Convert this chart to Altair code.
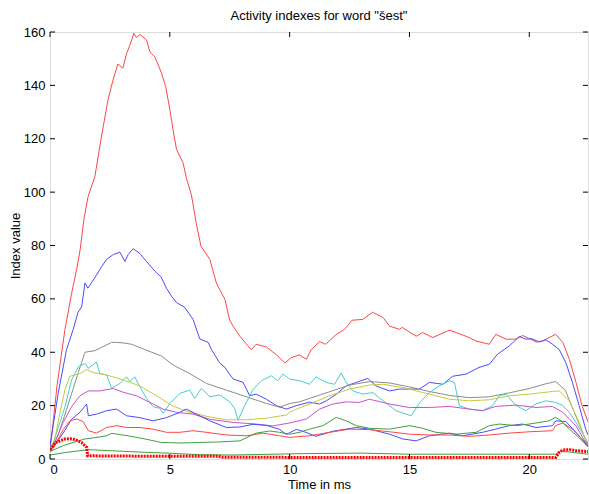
import altair as alt
import pandas as pd

# ---- data (x in ms, y index value) ----
red_x = [0, 0.07, 0.3, 0.625, 0.9, 1.11, 1.25, 1.42, 1.58, 1.875, 2.15, 2.42, 2.63, 2.83, 3.04, 3.2, 3.33, 3.5, 3.6, 3.75, 4.03, 4.17, 4.375, 4.65, 4.83, 5.0, 5.14, 5.28, 5.55, 5.7, 5.9, 6.1, 6.3, 6.67, 6.94, 7.08, 7.3, 7.5, 7.64, 7.92, 8.26, 8.4, 8.6, 9.03, 9.45, 9.8, 10.07, 10.4, 10.7, 10.9, 11.25, 11.5, 11.95, 12.3, 12.6, 13.05, 13.46, 13.9, 14.17, 14.58, 14.7, 15.28, 15.55, 15.97, 16.67, 17.36, 17.78, 18.33, 18.6, 19.03, 19.45, 19.72, 20.3, 20.55, 20.7, 21.1, 21.4, 21.67, 21.95, 22.2, 22.45]
red_y = [4, 8.7, 28, 48.6, 62, 71, 78, 90, 98, 106, 121, 134.6, 142, 148, 146.5, 152, 155, 159.5, 158, 159, 157, 152.5, 150.7, 144.7, 139.5, 131, 123, 116, 111, 105, 99, 88.5, 79.7, 74.8, 66, 63.5, 59.8, 52, 49.8, 46, 42.4, 41, 43, 42, 39, 36, 38, 39, 37.4, 41, 44, 43, 46.7, 48.6, 52, 52.3, 55, 53, 49.8, 48.6, 49.3, 46, 47.4, 45.5, 48.3, 46, 44.2, 43, 46.7, 44.9, 44.9, 46.3, 43.8, 44.2, 44.9, 46.7, 43.7, 37.4, 28.7, 20, 14]

blue_x = [0, 0.35, 0.69, 0.97, 1.17, 1.32, 1.46, 1.58, 1.875, 2.15, 2.36, 2.64, 2.92, 3.125, 3.26, 3.47, 3.75, 4.03, 4.375, 4.65, 4.86, 5.07, 5.28, 5.625, 5.97, 6.25, 6.6, 6.74, 7.08, 7.29, 7.64, 8.06, 8.33, 8.6, 9.03, 9.45, 9.86, 10.28, 10.83, 11.25, 11.53, 11.95, 12.36, 12.78, 13.26, 13.6, 14.17, 14.58, 15.42, 15.83, 16.4, 16.8, 17.36, 17.9, 18.33, 18.68, 19.17, 19.58, 19.86, 20.1, 20.4, 20.7, 20.97, 21.25, 21.53, 21.8, 22.08, 22.36, 22.45]
blue_y = [5, 25, 41, 48.6, 55, 57, 66, 64, 68, 72, 74.8, 76.6, 77.5, 74, 76.6, 78.8, 77, 74, 70.4, 68, 64, 61, 58.6, 56.8, 52.3, 45, 43.7, 41, 36, 34.4, 30, 28.7, 23.7, 24.3, 22.4, 20, 18.7, 20, 21.3, 20.6, 21.8, 24.3, 27.4, 28.7, 30.2, 27.4, 25.5, 26.2, 26.2, 28.7, 28, 31, 31.8, 34.3, 35.5, 39.3, 42.4, 45.9, 44.9, 45.1, 43.9, 44.6, 43, 41, 36, 28.7, 20, 11, 9]

gray_x = [0, 0.3, 0.6, 1.18, 1.46, 1.875, 2.08, 2.57, 2.78, 3.05, 3.4, 3.96, 4.65, 5.14, 5.83, 6.53, 7.36, 8.2, 9.03, 9.58, 10.0, 10.4, 10.83, 11.67, 12.5, 13.33, 14.17, 15.0, 15.83, 16.67, 17.5, 18.33, 19.17, 20.0, 20.7, 21.1, 21.5, 21.95, 22.45]
gray_y = [3, 8, 16, 32.4, 40, 40.6, 41.5, 43.7, 43.7, 43.5, 43, 41, 38.6, 35.2, 32, 28.3, 25.8, 23.3, 20.8, 19.4, 20.8, 21.4, 22.7, 25.2, 27.7, 29, 28.5, 27, 25.3, 23.8, 23, 23.3, 24.8, 26.4, 28.2, 29, 25.8, 16, 5]

cyan_x = [0, 0.14, 0.625, 0.9, 1.18, 1.46, 1.6, 1.94, 2.08, 2.36, 2.57, 2.92, 3.19, 3.33, 3.54, 3.75, 4.03, 4.3, 4.58, 4.72, 5.0, 5.42, 5.83, 6.04, 6.32, 6.67, 7.08, 7.5, 7.7, 7.85, 8.1, 8.47, 8.82, 9.24, 9.5, 9.72, 10.0, 10.42, 10.83, 11.1, 11.53, 11.875, 12.15, 12.36, 12.64, 13.05, 13.47, 13.9, 14.44, 15.07, 15.42, 15.83, 16.25, 16.67, 16.875, 17.08, 17.5, 18.05, 18.47, 18.75, 19.03, 19.45, 19.86, 20.28, 20.7, 21.1, 21.4, 21.67, 21.95, 22.36, 22.45]
cyan_y = [4, 6, 19.6, 29.6, 34.6, 35.8, 34, 36.4, 32, 31.5, 26.5, 28.3, 30.8, 29, 30.8, 27, 22.7, 19.6, 19, 17.1, 20.8, 24.6, 25.8, 22.7, 26.5, 23.3, 24, 21.4, 19, 14.6, 19.6, 26, 29.3, 31.2, 29.3, 31.8, 30, 29.3, 28, 30.8, 28.7, 28, 32.2, 28.7, 25.5, 24.3, 24.9, 21.8, 18.1, 16.2, 21, 24.9, 27.4, 29.3, 28.7, 20, 18.7, 18.1, 20, 23.7, 24.3, 20, 18.1, 20.6, 21.8, 21.2, 20, 17.5, 13.7, 7.5, 6]

yellow_x = [0, 0.2, 0.42, 0.625, 0.83, 1.25, 1.53, 1.8, 2.36, 3.06, 3.75, 4.44, 5.14, 5.83, 6.53, 7.36, 8.2, 9.03, 9.86, 10.0, 10.42, 10.83, 11.67, 12.5, 13.33, 13.9, 14.72, 15.83, 16.67, 17.5, 18.33, 19.17, 20.0, 20.97, 21.25, 21.67, 22.08, 22.45]
yellow_y = [3, 7.5, 17.5, 26, 31, 32, 33.6, 32.4, 31.5, 29.6, 27.4, 23.7, 19.8, 17.5, 16, 14.7, 14.7, 15.3, 16.5, 17.5, 19.2, 20.6, 23.7, 26.2, 27.7, 28, 26.8, 24.3, 22.4, 21.8, 22.2, 23.7, 24.3, 25.3, 25.5, 21.8, 13.7, 4.6]

magenta_x = [0, 0.14, 0.55, 0.9, 1.25, 1.6, 2.08, 2.64, 3.06, 3.61, 4.17, 4.72, 5.28, 5.97, 6.67, 7.64, 8.47, 9.3, 10.0, 10.7, 11.25, 11.8, 12.36, 12.9, 13.33, 14.17, 15.0, 15.83, 16.67, 17.5, 18.05, 18.6, 19.45, 20.28, 20.97, 21.4, 21.95, 22.45]
magenta_y = [3, 5, 13.7, 19.6, 23.7, 25.5, 25.5, 26.4, 25, 23.7, 21.2, 18.7, 17.5, 16.8, 14.9, 13.7, 13.2, 12.4, 13.5, 15, 18.7, 20.6, 21.4, 21.2, 22.4, 20.6, 19.3, 19.3, 19.7, 18.7, 18.1, 19.7, 20.2, 19.3, 19.7, 17.5, 12.4, 4.6]

blue2_x = [0, 0.14, 0.55, 0.9, 1.25, 1.53, 1.6, 1.94, 2.36, 2.78, 3.19, 3.75, 4.3, 4.86, 5.42, 5.69, 6.11, 6.67, 7.36, 7.92, 8.47, 9.03, 9.58, 9.86, 10.28, 10.55, 11.1, 11.8, 12.78, 13.33, 14.17, 14.72, 15.28, 15.83, 16.67, 17.22, 18.05, 18.6, 19.17, 19.72, 20.28, 20.97, 21.1, 21.53, 21.95, 22.45]
blue2_y = [3, 4.6, 9.7, 14.9, 17.5, 20.6, 16.2, 16.8, 18.1, 18.7, 16.2, 15.5, 14.3, 15.5, 17.5, 18.7, 16.8, 14.3, 11.8, 12, 13, 12.6, 11.1, 9.2, 11.1, 10.4, 8.5, 10.4, 11.8, 11.2, 9.3, 7.5, 6.8, 8.7, 9.7, 8.7, 10, 11.2, 12.5, 13.1, 11.8, 12.5, 14.3, 14, 10, 4.6]

red2_x = [0, 0.14, 0.55, 0.83, 1.11, 1.39, 1.6, 1.94, 2.36, 2.78, 3.19, 3.75, 4.3, 4.86, 5.42, 5.97, 6.53, 7.36, 8.2, 8.9, 9.58, 10.0, 10.83, 11.67, 12.5, 13.33, 14.17, 15.0, 15.83, 16.67, 17.5, 18.33, 19.17, 20.0, 20.97, 21.1, 21.4, 21.8, 22.2, 22.45]
red2_y = [3, 4, 11, 14.3, 15, 14, 10.6, 9.7, 11.8, 12.5, 11.8, 11.8, 11.2, 10, 10, 10.6, 10, 9, 8.7, 9.7, 8.7, 8.1, 8.7, 10, 11.2, 11, 10.2, 9.3, 9, 9, 8.5, 9, 9.7, 10.2, 10.6, 12.5, 13.5, 11.2, 7.5, 5.5]

green_x = [0, 0.55, 1.18, 1.46, 1.875, 2.36, 2.57, 3.26, 3.96, 4.65, 5.42, 6.25, 7.08, 7.92, 8.6, 9.17, 9.58, 10.0, 10.42, 10.83, 11.39, 11.95, 12.36, 12.78, 13.33, 14.17, 15.0, 15.55, 16.1, 16.94, 17.78, 18.33, 18.75, 19.45, 20.0, 20.83, 21.1, 21.32, 21.67, 22.08, 22.45]
green_y = [2.8, 5, 6.8, 7.5, 8, 8.7, 9.6, 8.7, 7.5, 6.2, 6, 6.2, 6.4, 6.8, 9.7, 10.5, 10, 9.3, 10, 11.2, 12.5, 15.6, 14.3, 12.5, 11.5, 11.2, 12.5, 11.5, 10, 9.3, 10, 12.5, 13.1, 12.5, 13.1, 14.3, 15.6, 14.3, 11.2, 8, 4.6]

green2_x = [0, 0.7, 1.6, 2.57, 3.96, 4.93, 6.25, 7.64, 10.4, 13.0, 15.0, 17.5, 20.0, 21.1, 21.3, 21.67, 22.45]
green2_y = [1.5, 2.5, 3.5, 3.1, 2.5, 2.2, 1.6, 1.5, 2.0, 2.2, 1.8, 1.8, 1.8, 1.8, 2.8, 2.6, 1.8]

dots_x = [0, 0.21, 0.42, 0.625, 0.85, 1.04, 1.32, 1.53, 1.57, 3.0, 5.0, 7.0, 7.2, 10.0, 15.0, 21.1, 21.25, 21.4, 21.7, 21.95, 22.45]
dots_y = [3.5, 6, 6.8, 7.5, 7.6, 7.3, 6.2, 4.4, 1.2, 1.1, 1.0, 1.0, 0.7, 0.6, 0.6, 0.6, 2.5, 3.4, 3.5, 3.1, 2.8]

series = [
    ("a", red_x, red_y, "#ff4545"),
    ("b", blue_x, blue_y, "#4a4aff"),
    ("c", gray_x, gray_y, "#8c8c8c"),
    ("d", cyan_x, cyan_y, "#3fd0d0"),
    ("e", yellow_x, yellow_y, "#c8c83c"),
    ("f", magenta_x, magenta_y, "#cc4fcc"),
    ("g", blue2_x, blue2_y, "#4a4aff"),
    ("h", red2_x, red2_y, "#ff4545"),
    ("i", green_x, green_y, "#3f9f3f"),
    ("j", green2_x, green2_y, "#3f9f3f"),
]

x_ticks = [0, 5, 10, 15, 20]
y_ticks = [0, 20, 40, 60, 80, 100, 120, 140, 160]

W, H = 538, 427
FONT = "Liberation Sans"
FS = 13

rows = []
for name, xs_, ys_, _ in series:
    for i, (xv, yv) in enumerate(zip(xs_, ys_)):
        rows.append({"s": name, "x": xv, "y": yv, "o": i})
df = pd.DataFrame(rows)
dots = pd.DataFrame({"x": dots_x, "y": dots_y, "o": list(range(len(dots_x)))})

xs = alt.Scale(domain=[0, 22.45], nice=False, zero=False)
ys = alt.Scale(domain=[0, 160], nice=False)

xaxis = alt.Axis(values=x_ticks, tickSize=0, domain=False, grid=False, labelFontSize=FS,
                 labelPadding=4, title="Time in ms", titleFontSize=FS, titleFontWeight="normal",
                 titlePadding=2, labelFont=FONT, titleFont=FONT, labelColor="black", titleColor="black")
yaxis = alt.Axis(values=y_ticks, tickSize=0, domain=False, grid=False, labelFontSize=FS,
                 labelPadding=5, title="Index value", titleFontSize=FS, titleFontWeight="normal",
                 titlePadding=1, labelFont=FONT, titleFont=FONT, labelColor="black", titleColor="black")

lines = alt.Chart(df).mark_line(strokeWidth=1, clip=True).encode(
    x=alt.X("x:Q", scale=xs, axis=xaxis),
    y=alt.Y("y:Q", scale=ys, axis=yaxis),
    color=alt.Color("s:N", scale=alt.Scale(domain=[s[0] for s in series], range=[s[3] for s in series]), legend=None),
    order="o:Q",
)

dotline = alt.Chart(dots).mark_line(strokeWidth=3, color="#ff0000", strokeDash=[2, 1], clip=True).encode(
    x=alt.X("x:Q", scale=xs), y=alt.Y("y:Q", scale=ys), order="o:Q"
)

xt = pd.DataFrame({"t": x_ticks})
yt = pd.DataFrame({"t": y_ticks})
tick_style = dict(color="black", strokeWidth=1)
xb = alt.Chart(xt).mark_rule(**tick_style).encode(x=alt.X("t:Q", scale=xs), y=alt.value(H), y2=alt.value(H - 5))
xtop = alt.Chart(xt).mark_rule(**tick_style).encode(x=alt.X("t:Q", scale=xs), y=alt.value(0), y2=alt.value(5))
yl = alt.Chart(yt).mark_rule(**tick_style).encode(y=alt.Y("t:Q", scale=ys), x=alt.value(0), x2=alt.value(5))
yr = alt.Chart(yt).mark_rule(**tick_style).encode(y=alt.Y("t:Q", scale=ys), x=alt.value(W - 5), x2=alt.value(W))

chart = alt.layer(lines, dotline, xb, xtop, yl, yr).properties(
    width=W, height=H,
    title=alt.TitleParams('Activity indexes for word "šest"', fontSize=FS, fontWeight="normal",
                          font=FONT, color="black", offset=3, anchor="middle"),
    padding={"left": 50, "top": 32, "right": 1, "bottom": 35},
    autosize="none",
).configure_view(stroke="black", strokeWidth=1).configure(background="white")

chart.save("out.html", embed_options={"renderer": "svg", "actions": False})
